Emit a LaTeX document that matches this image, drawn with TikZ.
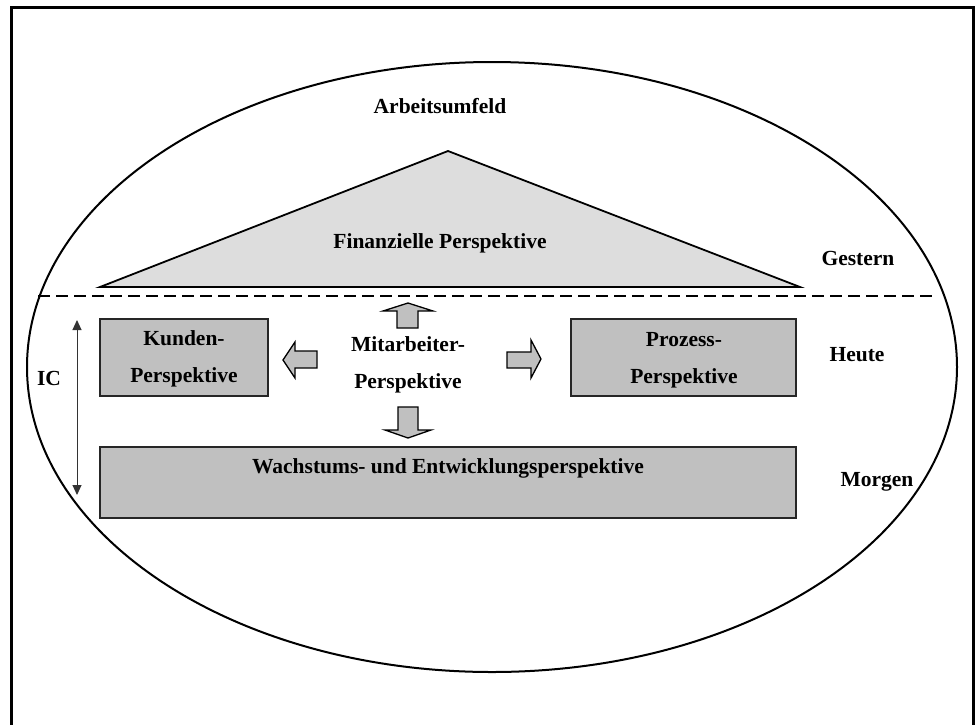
\documentclass[tikz,border=0pt]{standalone}
\usepackage{fontspec}
\setmainfont{Liberation Serif}
\usetikzlibrary{arrows.meta}
\definecolor{boxgray}{HTML}{C0C0C0}
\definecolor{roofgray}{HTML}{DDDDDD}
\tikzset{
  lbl/.style={font=\fontsize{21.5}{37}\selectfont\bfseries, inner sep=0pt, align=center},
  perspbox/.style={draw=black!85, line width=2pt, fill=boxgray},
  blockarrow/.style={draw=black, line width=1.3pt, fill=boxgray, line join=miter},
  sepline/.style={line width=2.8pt, dash pattern=on 12pt off 6pt},
}
\begin{document}
\begin{tikzpicture}[x=1pt,y=-1pt]
\useasboundingbox (0,0) rectangle (975,724);
% frame (open at the bottom)
\draw[line width=3pt] (11,730) -- (11,7) -- (973,7) -- (973,730);
% environment ellipse
\draw[line width=2pt] (492,367) ellipse [x radius=465, y radius=305];
\node[lbl] (env) at (440,106) {Arbeitsumfeld};
% roof
\draw[line width=1.8pt, fill=roofgray] (100,287) coordinate (roofL) -- (448,151) coordinate (apex) -- (800,287) coordinate (roofR) -- cycle;
\node[lbl] (fin) at (440,243) {Finanzielle Perspektive};
% separator
\coordinate (sepL) at (38,296);
\coordinate (sepR) at (934,296);
\draw[sepline] (sepL) -- (sepR);
% boxes
\draw[perspbox] (100,319) rectangle (268,396);
\node[lbl] (kunden) at (184,359) {Kunden-\\Perspektive};
\draw[perspbox] (571,319) rectangle (796,396);
\node[lbl] (prozess) at (684,360) {Prozess-\\Perspektive};
\draw[perspbox] (100,447) rectangle (796,518);
\node[lbl] (wachstum) at (448,468) {Wachstums- und Entwicklungsperspektive};
\node[lbl] (mitarb) at (408,365) {Mitarbeiter-\\Perspektive};
% block arrows
\draw[blockarrow] (397,328) -- (397,311) -- (383,311) -- (408,303) -- (433,311) -- (418,311) -- (418,328) -- cycle;
\draw[blockarrow] (398,407) -- (398,430) -- (385,430) -- (408,438) -- (431,430) -- (418,430) -- (418,407) -- cycle;
\draw[blockarrow] (317,351) -- (295,351) -- (295,342) -- (283,360) -- (295,378) -- (295,368) -- (317,368) -- cycle;
\draw[blockarrow] (507,352) -- (531,352) -- (531,340) -- (541,359) -- (531,378) -- (531,368) -- (507,368) -- cycle;
% time labels
\node[lbl] (gestern) at (858,258) {Gestern};
\node[lbl] (heute) at (857,355) {Heute};
\node[lbl] (morgen) at (877,482) {Morgen};
% IC arrow
\coordinate (icT) at (77,320);
\coordinate (icB) at (77,495);
\draw[black!80, line width=1pt, {Triangle[length=10pt,width=9pt]}-{Triangle[length=10pt,width=9pt]}] (icT) -- (icB);
\node[lbl] (ic) at (49,378) {IC};
\end{tikzpicture}
\end{document}
